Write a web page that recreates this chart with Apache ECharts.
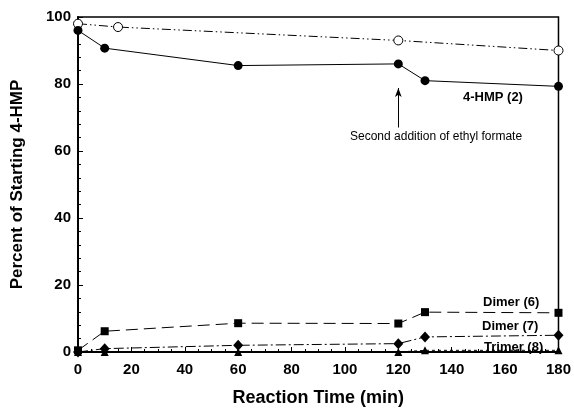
<!DOCTYPE html>
<html>
<head>
<meta charset="utf-8">
<script src="https://cdn.jsdelivr.net/npm/echarts@6/dist/echarts.min.js"></script>
<style>
  html, body { margin: 0; padding: 0; background: #fff; }
  #chart { width: 574px; height: 412px; }
</style>
</head>
<body>
<div id="chart"></div>
<script>
// reaction times (min) for each series
var timesOpen = [0, 15, 120, 180];
var hmpOpen = [98, 97, 93, 90];
var times = [0, 10, 60, 120, 130, 180];
var hmp2 = [96, 90.7, 85.5, 86, 81, 79.3];
var dimer6 = [0.5, 6.2, 8.6, 8.5, 11.9, 11.7];
var dimer7 = [0, 1, 2, 2.5, 4.5, 5];
var trimer8 = [0, 0, 0, 0, 0.5, 0.5];

function pairs(xs, ys) {
    return xs.map(function (x, i) { return [x, ys[i]]; });
}

var chart = echarts.init(document.getElementById('chart'));
var font = 'Liberation Sans, Arial, sans-serif';

chart.setOption({
    animation: false,
    grid: {
        left: 78, right: 15, top: 17, bottom: 59,
        show: true,
        borderColor: '#000',
        borderWidth: 1.5
    },
    xAxis: {
        type: 'value',
        min: 0, max: 180, interval: 20,
        name: 'Reaction Time (min)',
        nameLocation: 'middle',
        nameGap: 37,
        nameTextStyle: { fontFamily: font, fontWeight: 'bold', fontSize: 18, color: '#000' },
        axisLine: { lineStyle: { color: '#000', width: 2 } },
        axisTick: { inside: true, length: 5, lineStyle: { color: '#000' } },
        minorTick: { show: true, splitNumber: 4, length: 3, lineStyle: { color: '#000' } },
        splitLine: { show: false },
        axisLabel: { fontFamily: font, fontWeight: 'bold', fontSize: 15, color: '#000', margin: 10 }
    },
    yAxis: {
        type: 'value',
        min: 0, max: 100, interval: 20,
        name: 'Percent of Starting 4-HMP',
        nameLocation: 'middle',
        nameGap: 52,
        nameTextStyle: { fontFamily: font, fontWeight: 'bold', fontSize: 17, color: '#000' },
        axisLine: { lineStyle: { color: '#000', width: 2 } },
        axisTick: { inside: true, length: 5, lineStyle: { color: '#000' } },
        minorTick: { show: true, splitNumber: 5, length: 3, lineStyle: { color: '#000' } },
        splitLine: { show: false },
        axisLabel: { fontFamily: font, fontWeight: 'bold', fontSize: 15, color: '#000', margin: 7 }
    },
    series: [
        {
            name: 'open',
            type: 'line',
            data: pairs(timesOpen, hmpOpen),
            symbol: 'circle',
            symbolSize: 9,
            itemStyle: { color: '#fff', borderColor: '#000', borderWidth: 1 },
            lineStyle: { color: '#000', width: 1, type: [9, 3, 1.5, 3, 1.5, 3] },
            z: 3
        },
        {
            name: '4-HMP (2)',
            type: 'line',
            data: pairs(times, hmp2),
            symbol: 'circle',
            symbolSize: 9,
            itemStyle: { color: '#000' },
            lineStyle: { color: '#000', width: 1 },
            markLine: {
                silent: true,
                symbol: ['none', 'arrow'],
                symbolSize: [5, 9],
                label: { show: false },
                lineStyle: { color: '#000', width: 1, type: 'solid' },
                data: [[{ coord: [120, 67] }, { coord: [120, 78.8] }]]
            }
        },
        {
            name: 'Dimer (6)',
            type: 'line',
            data: pairs(times, dimer6),
            symbol: 'rect',
            symbolSize: 8,
            itemStyle: { color: '#000' },
            lineStyle: { color: '#000', width: 1, type: [12, 6] }
        },
        {
            name: 'Dimer (7)',
            type: 'line',
            data: pairs(times, dimer7),
            symbol: 'diamond',
            symbolSize: [10, 11],
            itemStyle: { color: '#000' },
            lineStyle: { color: '#000', width: 1, type: [10, 3, 2, 3] }
        },
        {
            name: 'Trimer (8)',
            type: 'line',
            data: pairs(times, trimer8),
            symbol: 'triangle',
            symbolSize: 8,
            itemStyle: { color: '#000' },
            lineStyle: { color: '#000', width: 1, type: [3, 3] }
        }
    ],
    graphic: [
        { type: 'text', left: 463, top: 91,
          style: { text: '4-HMP (2)', fontFamily: font, fontWeight: 'bold', fontSize: 13, fill: '#000' } },
        { type: 'text', left: 350, top: 131,
          style: { text: 'Second addition of ethyl formate', fontFamily: font, fontSize: 12, fill: '#000' } },
        { type: 'text', left: 483, top: 296,
          style: { text: 'Dimer (6)', fontFamily: font, fontWeight: 'bold', fontSize: 13, fill: '#000' } },
        { type: 'text', left: 482, top: 320,
          style: { text: 'Dimer (7)', fontFamily: font, fontWeight: 'bold', fontSize: 13, fill: '#000' } },
        { type: 'text', left: 484, top: 341,
          style: { text: 'Trimer (8)', fontFamily: font, fontWeight: 'bold', fontSize: 13, fill: '#000' } }
    ]
});
</script>
</body>
</html>
